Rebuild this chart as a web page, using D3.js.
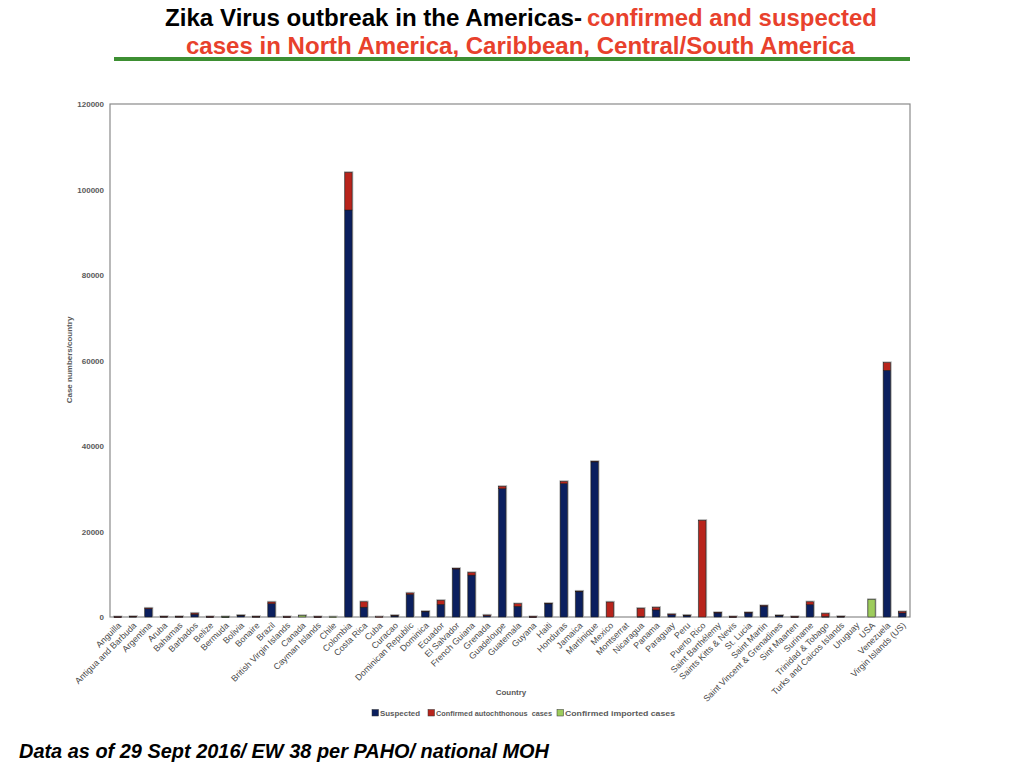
<!DOCTYPE html>
<html>
<head>
<meta charset="utf-8">
<script src="https://cdn.jsdelivr.net/npm/d3@7"></script>
<style>
  html, body { margin: 0; padding: 0; background: #fff; }
  svg { display: block; }
  text { font-family: "Liberation Sans", Arial, Helvetica, sans-serif; }
</style>
</head>
<body>
<svg id="chart" width="1024" height="768"></svg>
<script>
const countries = ["Anguilla","Antigua and Barbuda","Argentina","Aruba","Bahamas","Barbados","Belize","Bermuda","Bolivia","Bonaire","Brazil","British Virgin Islands","Canada","Cayman Islands","Chile","Colombia","Costa Rica","Cuba","Curacao","Dominican Republic","Dominica","Ecuador","El Salvador","French Guiana","Grenada","Guadeloupe","Guatemala","Guyana","Haiti","Honduras","Jamaica","Martinique","Mexico","Montserrat","Nicaragua","Panama","Paraguay","Peru","Puerto Rico","Saint Barthélemy","Saints Kitts & Nevis","St. Lucia","Saint Martin","Saint Vincent & Grenadines","Sint Maarten","Suriname","Trinidad & Tobago","Turks and Caicos Islands","Uruguay","USA","Venezuela","Virgin Islands (US)"];

const suspected = [40,120,2000,100,100,650,50,40,300,100,3100,50,0,50,0,95200,2300,0,250,5300,1250,2950,11300,9800,350,30000,2500,50,3100,31200,5900,36300,0,0,100,1650,650,350,0,1000,50,1000,2600,300,50,2900,100,100,0,0,57700,950];

const confirmedAuto = [20,20,80,20,20,250,50,0,120,20,400,30,0,30,0,8800,1250,60,150,300,80,950,50,600,100,550,600,40,100,500,150,100,3500,0,1950,600,20,80,22600,60,50,60,60,100,50,650,700,50,0,0,1800,300];

const confirmedImported = [0,0,0,0,0,0,0,40,0,0,0,0,350,0,40,0,0,0,0,0,0,0,0,0,0,0,0,0,0,0,0,0,0,0,0,0,0,0,0,0,0,0,0,0,0,0,0,0,0,4100,0,0];

const seriesNames = ["Suspected","Confirmed autochthonous  cases","Confirmed imported cases"];
const seriesColors = ["#0b1f5e","#b8241c","#9dcc5c"];
const yTicks = [0,20000,40000,60000,80000,100000,120000];

const svg = d3.select("#chart");

// Title
const titleBlack = "Zika Virus outbreak in the Americas-";
const titleRed1 = "confirmed and suspected";
const titleRed2 = "cases in North America, Caribbean, Central/South America";
const tf = '"Liberation Sans Narrow", "Liberation Sans", Arial, sans-serif';
svg.append("text").attr("x",165).attr("y",26).attr("font-family",tf).attr("font-weight","bold")
  .attr("font-size",24).attr("fill","#000").attr("textLength",417).attr("lengthAdjust","spacingAndGlyphs").text(titleBlack);
svg.append("text").attr("x",587).attr("y",26).attr("font-family",tf).attr("font-weight","bold")
  .attr("font-size",24).attr("fill","#e8412c").attr("textLength",290).attr("lengthAdjust","spacingAndGlyphs").text(titleRed1);
svg.append("text").attr("x",186).attr("y",54).attr("font-family",tf).attr("font-weight","bold")
  .attr("font-size",24).attr("fill","#e8412c").attr("textLength",669).attr("lengthAdjust","spacingAndGlyphs").text(titleRed2);
svg.append("rect").attr("x",114).attr("y",57).attr("width",796).attr("height",4).attr("fill","#3d8f32");

// Chart
const pLeft = 110, pRight = 910, pTop = 104, pBottom = 617;
const x = d3.scaleBand().domain(countries).range([pLeft, pRight]).paddingInner(0.53).paddingOuter(0.265);
const y = d3.scaleLinear().domain([0,120000]).range([pBottom, pTop]);

const data = countries.map((c,i) => ({country:c, s0:suspected[i], s1:confirmedAuto[i], s2:confirmedImported[i]}));
const stacked = d3.stack().keys(["s0","s1","s2"])(data);

// plot border
svg.append("rect").attr("x",pLeft).attr("y",pTop).attr("width",pRight-pLeft).attr("height",pBottom-pTop)
  .attr("fill","none").attr("stroke","#8a8a8a").attr("stroke-width",1.2);

// bar shadows (gray outline)
svg.append("g").selectAll("rect").data(data.filter(d => d.s0+d.s1+d.s2 > 0)).join("rect")
  .attr("x", d => x(d.country) - 0.8)
  .attr("y", d => y(d.s0+d.s1+d.s2) - 1.2)
  .attr("width", x.bandwidth() + 2)
  .attr("height", d => Math.max(0, pBottom - y(d.s0+d.s1+d.s2)) + 1.2)
  .attr("fill", "#b0b0b0");

stacked.forEach((layer, li) => {
  svg.append("g").selectAll("rect").data(layer.filter(d => d[1]-d[0] > 0)).join("rect")
    .attr("x", d => x(d.data.country))
    .attr("y", d => y(d[1]))
    .attr("width", x.bandwidth())
    .attr("height", d => Math.max(0.6, y(d[0]) - y(d[1])))
    .attr("fill", seriesColors[li])
    .attr("stroke", "#1a1a1a")
    .attr("stroke-width", 0.5);
});

// Y axis labels
const yAxis = d3.axisLeft(y).tickValues(yTicks).tickSize(0).tickPadding(6).tickFormat(d3.format("d"));
const ya = svg.append("g").attr("transform",`translate(${pLeft},0)`).call(yAxis);
ya.select(".domain").remove();
ya.selectAll("text").attr("font-size",8).attr("font-weight","bold").attr("fill","#5a5a5a")
  .attr("font-family",'"Liberation Sans", Arial, sans-serif');

// X axis labels
const xAxis = d3.axisBottom(x).tickSize(0).tickPadding(0);
const xa = svg.append("g").attr("transform",`translate(0,${pBottom})`).call(xAxis);
xa.select(".domain").remove();
xa.selectAll(".tick text")
  .attr("font-size",8.8).attr("fill","#4a4a4a").attr("font-family",'"Liberation Sans", Arial, sans-serif')
  .attr("text-anchor","end").attr("dy",0).attr("y",0)
  .attr("transform","translate(4,9) rotate(-45)");

// Axis titles
svg.append("text").attr("transform","translate(72,360) rotate(-90)").attr("text-anchor","middle")
  .attr("font-size",8).attr("font-weight","bold").attr("fill","#5a5a5a").text("Case numbers/country");
svg.append("text").attr("x",511).attr("y",695).attr("text-anchor","middle")
  .attr("font-size",8).attr("font-weight","bold").attr("fill","#5a5a5a").text("Country");

// Legend
const legendX = [372, 428, 557];
const legendW = [40, 116, 110];
const lg = svg.append("g");
seriesNames.forEach((n,i) => {
  lg.append("rect").attr("x",legendX[i]).attr("y",709.5).attr("width",6.5).attr("height",6.5)
    .attr("fill",seriesColors[i]).attr("stroke","#333").attr("stroke-width",0.5);
  lg.append("text").attr("x",legendX[i]+8).attr("y",716).attr("font-size",8).attr("font-weight","bold")
    .attr("fill","#5a5a5a").style("white-space","pre")
    .attr("textLength",legendW[i]).attr("lengthAdjust","spacingAndGlyphs").text(n);
});

// Footer
svg.append("text").attr("x",19).attr("y",758).attr("font-size",19.5).attr("font-weight","bold")
  .attr("font-style","italic").attr("fill","#000").attr("textLength",530).attr("lengthAdjust","spacingAndGlyphs")
  .text("Data as of 29 Sept 2016/ EW 38 per PAHO/ national MOH");
</script>
</body>
</html>
